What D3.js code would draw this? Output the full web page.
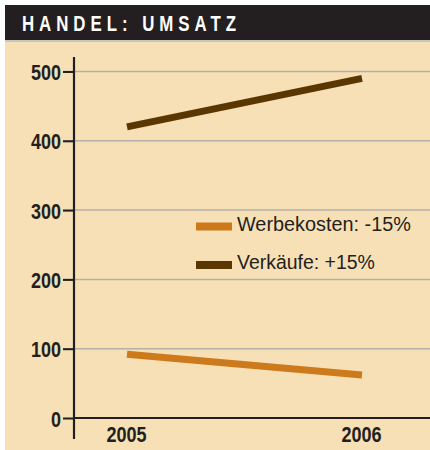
<!DOCTYPE html>
<html><head><meta charset="utf-8">
<script src="https://cdn.jsdelivr.net/npm/d3@7"></script>
<style>
html,body{margin:0;padding:0;background:#fff;}
svg{display:block;}
</style></head>
<body>
<svg id="chart" width="430" height="450"></svg>
<script>
const title = "HANDEL: UMSATZ";
const years = [2005, 2006];
const yTicks = [0, 100, 200, 300, 400, 500];
const werbekosten = [92, 62];
const verkaeufe = [420, 490];
const seriesNames = ["Werbekosten: -15%", "Verkäufe: +15%"];
const seriesColors = ["#cc7a1c", "#5a3600"];

const FONT = "'Liberation Sans',Arial,sans-serif";
const svg = d3.select("#chart");

// horizontally condense a text element about its anchor x
function squeeze(sel, s) {
  sel.each(function(){
    const t = d3.select(this);
    const ax = +t.attr("x") || 0;
    t.attr("transform", `translate(${ax},0) scale(${s},1) translate(${-ax},0)`);
  });
}
function fitTo(sel, w) {
  sel.each(function(){
    const len = this.getComputedTextLength();
    squeeze(d3.select(this), w/len);
  });
}

// background panels
svg.append("rect").attr("x",5).attr("y",42).attr("width",425).attr("height",408).attr("fill","#f7e0b6");
svg.append("rect").attr("x",5).attr("y",5).attr("width",425).attr("height",35).attr("fill","#231f20");
svg.append("rect").attr("x",5).attr("y",40).attr("width",425).attr("height",2).attr("fill","#c9c6c0");
const tt = svg.append("text").attr("x",22).attr("y",31).text(title)
  .attr("fill","#fff").attr("font-family",FONT).attr("font-weight","bold")
  .attr("font-size",22).attr("letter-spacing",6.5);
fitTo(tt, 219);

const x = d3.scaleLinear().domain([2005,2006]).range([127,362]);
const y = d3.scaleLinear().domain([0,500]).range([418,71.5]);

// gridlines
svg.append("g").selectAll("line").data(yTicks.filter(d=>d>0)).join("line")
  .attr("x1",63).attr("x2",430).attr("y1",d=>y(d)).attr("y2",d=>y(d))
  .attr("stroke","#b3b0a8").attr("stroke-width",1.5);

// y axis
const yAxis = svg.append("g").attr("transform","translate(74,0)")
  .call(d3.axisLeft(y).tickValues(yTicks).tickSize(11).tickPadding(2).tickFormat(d3.format("d")));
yAxis.select(".domain").remove();
yAxis.selectAll(".tick line").attr("stroke","#231f20").attr("stroke-width",2).attr("x2",-11);
yAxis.selectAll(".tick text").attr("font-family",FONT).attr("font-weight","bold")
  .attr("font-size",22.5).attr("fill","#231f20").attr("dy","0.36em").attr("x",-13);
squeeze(yAxis.selectAll(".tick text"), 0.8);
svg.append("line").attr("x1",74).attr("x2",74).attr("y1",57).attr("y2",439)
  .attr("stroke","#231f20").attr("stroke-width",2.2);
svg.append("line").attr("x1",74).attr("x2",430).attr("y1",y(0)).attr("y2",y(0))
  .attr("stroke","#231f20").attr("stroke-width",2.2);

// x axis labels
const xAxis = svg.append("g").attr("transform","translate(0,418)")
  .call(d3.axisBottom(x).tickValues(years).tickSize(0).tickPadding(9).tickFormat(d3.format("d")));
xAxis.select(".domain").remove();
xAxis.selectAll(".tick text").attr("font-family",FONT).attr("font-weight","bold")
  .attr("font-size",21.5).attr("fill","#231f20").attr("x",-1);
squeeze(xAxis.selectAll(".tick text"), 0.84);

// lines
const line = d3.line().x((d,i)=>x(years[i])).y(d=>y(d));
[werbekosten, verkaeufe].forEach((s,i)=>{
  svg.append("path").attr("d",line(s)).attr("fill","none")
    .attr("stroke",seriesColors[i]).attr("stroke-width",7).attr("stroke-linecap","butt");
});

// legend
const legendWidths = [174, 138];
const lg = svg.append("g");
seriesNames.forEach((n,i)=>{
  const cy = 226.5 + i*38.5;
  lg.append("rect").attr("x",196).attr("y",cy-4).attr("width",36).attr("height",8).attr("fill",seriesColors[i]);
  const t = lg.append("text").attr("x",237).attr("y",cy+4.5).text(n)
    .attr("font-family",FONT).attr("font-size",21).attr("fill","#231f20");
  fitTo(t, legendWidths[i]);
});
</script>
</body></html>
